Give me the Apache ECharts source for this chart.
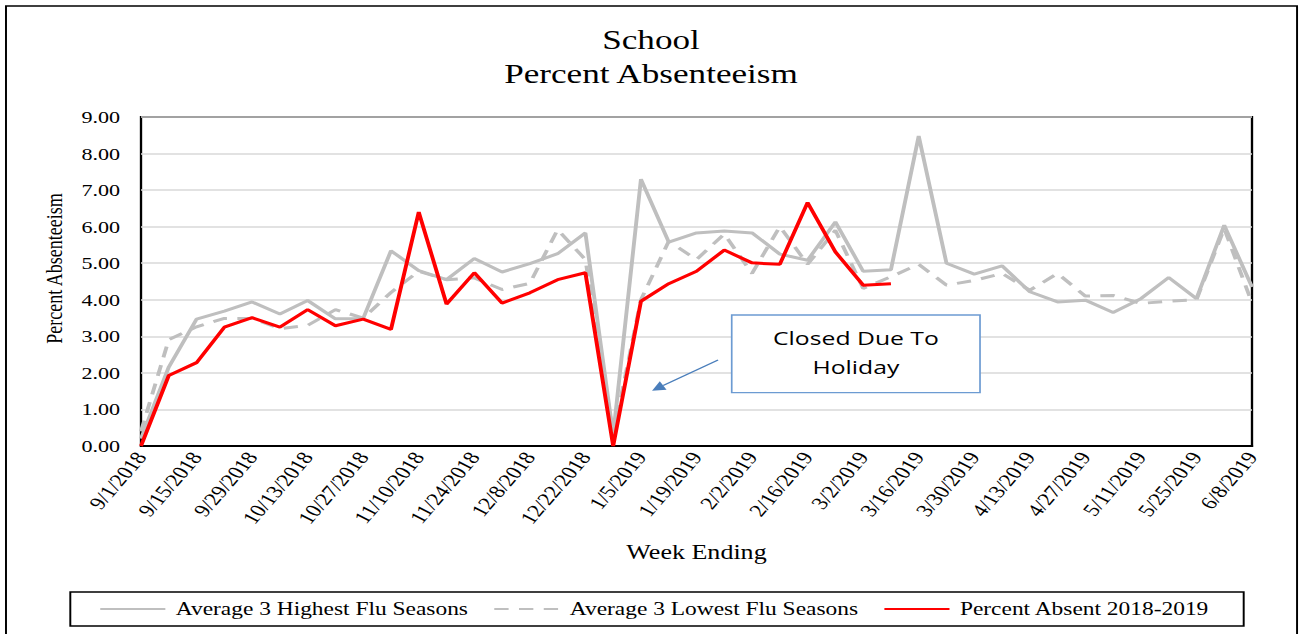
<!DOCTYPE html>
<html>
<head>
<meta charset="utf-8">
<script src="https://cdn.jsdelivr.net/npm/echarts@6/dist/echarts.min.js"></script>
<style>
  html, body { margin: 0; padding: 0; background: #fff; overflow: hidden; }
  /* the reference is a chart stretched sideways, so draw narrow and stretch */
  #chart { width: 1000px; height: 634px; transform: scaleX(1.302); transform-origin: 0 0; }
</style>
</head>
<body>
<div id="chart"></div>
<script>
var weeks = [
  '9/1/2018', '9/8/2018', '9/15/2018', '9/22/2018', '9/29/2018', '10/6/2018', '10/13/2018',
  '10/20/2018', '10/27/2018', '11/3/2018', '11/10/2018', '11/17/2018', '11/24/2018',
  '12/1/2018', '12/8/2018', '12/15/2018', '12/22/2018', '12/29/2018', '1/5/2019',
  '1/12/2019', '1/19/2019', '1/26/2019', '2/2/2019', '2/9/2019', '2/16/2019', '2/23/2019',
  '3/2/2019', '3/9/2019', '3/16/2019', '3/23/2019', '3/30/2019', '4/6/2019', '4/13/2019',
  '4/20/2019', '4/27/2019', '5/4/2019', '5/11/2019', '5/18/2019', '5/25/2019', '6/1/2019',
  '6/8/2019'
];

var highest = [0.2, 2.16, 3.47, 3.69, 3.94, 3.61, 3.98, 3.48, 3.49, 5.34, 4.80, 4.55, 5.13,
  4.76, 4.99, 5.26, 5.83, 0.3, 7.30, 5.58, 5.83, 5.88, 5.83, 5.25, 5.08, 6.13, 4.78, 4.82,
  8.48, 5.00, 4.70, 4.93, 4.22, 3.94, 3.99, 3.65, 4.03, 4.61, 4.03, 6.04, 4.35];

var lowest = [0.4, 2.91, 3.26, 3.49, 3.49, 3.21, 3.30, 3.73, 3.50, 4.20, 4.78, 4.55, 4.60,
  4.28, 4.45, 5.92, 5.10, 0.3, 4.00, 5.60, 5.10, 5.80, 4.72, 6.00, 4.97, 5.90, 4.31, 4.63,
  4.97, 4.40, 4.53, 4.72, 4.26, 4.72, 4.10, 4.12, 3.90, 3.96, 4.00, 5.95, 3.91];

var absent = [0, 1.93, 2.28, 3.25, 3.51, 3.25, 3.73, 3.29, 3.47, 3.19, 6.40, 3.88, 4.74,
  3.91, 4.19, 4.55, 4.74, 0, 3.96, 4.44, 4.78, 5.36, 5.01, 4.97, 6.66, 5.31, 4.40, 4.44,
  null, null, null, null, null, null, null, null, null, null, null, null, null];

var serif = "'Liberation Serif', 'Times New Roman', serif";
var GRAY = '#bfbfbf';
var RED = '#ff0000';

// arrow pointing at the holiday week, tail near the note box
function arrow(x1, y1, x2, y2, headLen, headHalf, color) {
  var dx = x2 - x1, dy = y2 - y1;
  var len = Math.sqrt(dx * dx + dy * dy);
  var ux = dx / len, uy = dy / len;
  var bx = x2 - ux * headLen, by = y2 - uy * headLen;
  var nx = -uy, ny = ux;
  return [
    { type: 'line', z: 100, shape: { x1: x1, y1: y1, x2: bx, y2: by },
      style: { stroke: color, lineWidth: 1.4 } },
    { type: 'polygon', z: 100,
      shape: { points: [[x2, y2], [bx + nx * headHalf, by + ny * headHalf], [bx - nx * headHalf, by - ny * headHalf]] },
      style: { fill: color } }
  ];
}

var chart = echarts.init(document.getElementById('chart'), null, { renderer: 'svg' });

chart.setOption({
  animation: false,
  backgroundColor: '#fff',
  title: {
    text: 'School\nPercent Absenteeism',
    left: 'center',
    top: 18,
    textStyle: { fontFamily: serif, fontSize: 27, fontWeight: 'normal', color: '#000', lineHeight: 34 }
  },
  legend: {
    top: 592,
    left: 54,
    padding: [8, 26, 8, 22],
    itemGap: 19,
    itemWidth: 50,
    itemHeight: 14,
    borderColor: '#000',
    borderWidth: 1.5,
    itemStyle: { opacity: 0 },
    textStyle: { fontFamily: serif, fontSize: 18, color: '#000', padding: [0, 0, 0, 3] },
    data: ['Average 3 Highest Flu Seasons', 'Average 3 Lowest Flu Seasons', 'Percent Absent 2018-2019']
  },
  grid: {
    left: 108.3,
    right: 38.4,
    top: 117,
    bottom: 188,
    show: true,
    borderColor: '#000',
    borderWidth: 1.8
  },
  xAxis: {
    type: 'category',
    data: weeks,
    boundaryGap: false,
    name: 'Week Ending',
    nameLocation: 'middle',
    nameGap: 96,
    nameTextStyle: { fontFamily: serif, fontSize: 20, color: '#000' },
    axisLine: { lineStyle: { color: '#000', width: 2 } },
    axisTick: { show: false },
    axisLabel: {
      interval: 1,
      rotate: 56,
      margin: 8,
      fontFamily: serif,
      fontSize: 18,
      color: '#000'
    },
    splitLine: { show: false }
  },
  yAxis: {
    type: 'value',
    min: 0,
    max: 9,
    interval: 1,
    name: 'Percent Absenteeism',
    nameLocation: 'middle',
    nameGap: 58,
    nameTextStyle: { fontFamily: serif, fontSize: 18, color: '#000', padding: [0, 0, 0, 26] },
    axisLine: { show: false },
    axisTick: { show: false },
    axisLabel: {
      margin: 16,
      fontFamily: serif,
      fontSize: 17,
      color: '#000',
      formatter: function (v) { return v.toFixed(2); }
    },
    splitLine: { lineStyle: { color: '#d9d9d9', width: 1.5 } }
  },
  series: [
    {
      name: 'Average 3 Highest Flu Seasons',
      type: 'line',
      data: highest,
      symbol: 'none',
      itemStyle: { color: GRAY },
      lineStyle: { color: GRAY, width: 3 }
    },
    {
      name: 'Average 3 Lowest Flu Seasons',
      type: 'line',
      data: lowest,
      symbol: 'none',
      itemStyle: { color: GRAY },
      lineStyle: { color: GRAY, width: 3, type: [11, 8] }
    },
    {
      name: 'Percent Absent 2018-2019',
      type: 'line',
      data: absent,
      symbol: 'none',
      connectNulls: false,
      itemStyle: { color: RED },
      lineStyle: { color: RED, width: 3 }
    }
  ],
  graphic: [
    {
      type: 'rect',
      silent: true,
      shape: { x: 4.6, y: 6, width: 991.6, height: 640 },
      style: { fill: 'none', stroke: '#000', lineWidth: 1.5 },
      z: 0
    },
    {
      type: 'group',
      z: 100,
      children: [
        {
          type: 'rect',
          z: 100,
          shape: { x: 562, y: 315, width: 190.7, height: 77.7 },
          style: { fill: '#fff', stroke: '#6c9bd2', lineWidth: 1.3 }
        },
        {
          type: 'text',
          z: 101,
          x: 657.4,
          y: 352,
          style: {
            text: 'Closed Due To\nHoliday',
            fill: '#000',
            font: "19px 'Open Sans', sans-serif",
            lineHeight: 29,
            align: 'center',
            verticalAlign: 'middle'
          }
        }
      ].concat(arrow(551.5, 360, 500.8, 390.7, 10, 5, '#4a7ebb'))
    }
  ]
});
</script>
</body>
</html>
